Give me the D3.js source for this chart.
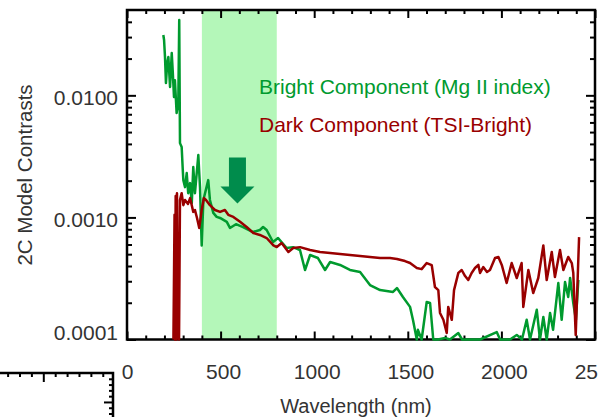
<!DOCTYPE html>
<html>
<head>
<meta charset="utf-8">
<script src="https://cdn.jsdelivr.net/npm/d3@7"></script>
<style>
  html, body { margin: 0; padding: 0; background: #fff; overflow: hidden; }
  svg { display: block; }
  text { font-family: "Liberation Sans", Arial, sans-serif; }
</style>
</head>
<body>
<script>
// ---------------- data ----------------
const xMajorTicks = [0, 500, 1000, 1500, 2000, 2500];
const yMajorTicks = [0.0001, 0.001, 0.01];
const bandRange = [400, 800];          // shaded region (nm)
const arrowNm = 590;                   // arrow position (nm)
const arrowVals = [0.0031, 0.0013];    // arrow tail / tip values

const legendLabels = ["Bright Component (Mg II index)", "Dark Component (TSI-Bright)"];

const greenNm = [
  194,198,203,208,215,221,230,239,244,251,
  256,265,274,279,283,292,298,301,310,319,
  327,337,346,354,363,381,390,399,408,434,
  443,461,479,497,533,550,582,620,673,710,
  727,746,780,807,853,887,924,951,978,1020,
  1058,1085,1138,1191,1245,1298,1352,1421,1442,1474,
  1512,1528,1548,1554,1574,1601,1619,1636,1661,1699,
  1725,1770,1790,1832,1886,1975,1993,2046,2082,2110,
  2135,2153,2189,2206,2224,2242,2260,2276,2304,2322,
  2340,2357,2367,2384,2398,2411
];
const greenVal = [
  0.0312,0.0284,0.0206,0.0126,0.0184,0.0206,0.0117,0.0222,0.0161,0.00968,
  0.0133,0.00716,0.00865,0.0414,0.00406,0.00377,0.00244,0.00202,0.00177,0.00231,
  0.00158,0.00191,0.00131,0.00259,0.00158,0.00324,0.00177,0.00059,0.00139,0.00202,
  0.00139,0.00109,0.00101,0.00099,0.00092,0.00082,0.00088,0.000834,0.000759,0.000789,
  0.000834,0.000789,0.000629,0.000678,0.000561,0.000571,0.000541,0.000371,0.000492,0.000465,
  0.000371,0.000431,0.000408,0.000371,0.000357,0.000279,0.000254,0.000245,0.000264,0.000223,
  0.000185,0.000144,0.00009,0.00012,0.00008,0.000203,0.000199,0.00009,0.00008,0.000103,
  0.00008,0.000113,0.00008,0.00008,0.00009,0.000115,0.00009,0.00009,0.000109,0.00009,
  0.000145,0.00009,0.000175,0.000099,0.000153,0.00009,0.000165,0.00012,0.00029,0.000145,
  0.000296,0.000223,0.000319,0.000199,0.000145,0.000307
];

const redNm = [
  248,254,256,260,264,267,272,278,283,292,
  301,310,326,337,354,363,374,386,399,411,
  422,443,470,497,523,541,568,604,639,675,
  710,746,782,800,826,862,888,924,978,1031,
  1085,1138,1191,1245,1298,1352,1405,1442,1485,1512,
  1548,1574,1601,1628,1645,1663,1672,1690,1708,1716,
  1735,1747,1770,1788,1806,1823,1841,1859,1877,1886,
  1903,1923,1939,1966,1984,2002,2028,2055,2082,2108,
  2117,2144,2170,2197,2224,2242,2269,2286,2313,2331,
  2357,2376,2384,2397,2415
];
const redVal = [
  0.00008,0.00105,0.00008,0.0015,0.00008,0.00158,0.00012,0.00008,0.00139,0.00158,
  0.00126,0.00139,0.00129,0.00144,0.00111,0.00115,0.00099,0.00082,0.00115,0.00144,
  0.00139,0.00126,0.00115,0.00111,0.00115,0.00105,0.00101,0.00092,0.000834,0.000745,
  0.000718,0.000678,0.00059,0.000572,0.000617,0.000521,0.000561,0.000571,0.000541,0.000521,
  0.000511,0.000502,0.000492,0.000483,0.000474,0.000465,0.000465,0.000457,0.000439,0.000423,
  0.000385,0.000377,0.000423,0.000406,0.000269,0.000254,0.000165,0.000145,0.000113,0.000185,
  0.000145,0.000254,0.000351,0.000371,0.000331,0.000307,0.000351,0.000385,0.000408,0.000351,
  0.000392,0.000357,0.000371,0.000465,0.000474,0.000408,0.00029,0.000423,0.000319,0.000423,
  0.000185,0.000371,0.00024,0.000319,0.00059,0.000307,0.000521,0.000325,0.000541,0.000371,
  0.000474,0.000423,0.000351,0.000109,0.00069
];

// fragment of a neighbouring panel's axes (bottom-left corner)
const insetXTicks = [-3,-2,-1,0,1,2,3,4,5];
const insetXMajor = [0];
const insetYTicks = [-4,-3,-2,-1,0,1,2];
const insetYMajor = [0];

// ---------------- layout ----------------
const W = 598, H = 417;
const L = 127, R = 595, T = 10, B = 339.5;
const green = "#009a2e", red = "#990000", textCol = "#333";

const svg = d3.select("body").append("svg").attr("width", W).attr("height", H);

const x = d3.scaleLinear().domain([0, 2500]).range([L, R]);
const y = d3.scaleLog().domain([0.0001, 0.05]).range([B, T]).clamp(true);

// clip (slightly larger than the frame so clamped lines sit on the axis)
svg.append("defs").append("clipPath").attr("id", "plotclip")
  .append("rect").attr("x", L).attr("y", T - 2).attr("width", R - L).attr("height", B - T + 4);

// band
svg.append("rect")
  .attr("x", x(bandRange[0])).attr("y", T)
  .attr("width", x(bandRange[1]) - x(bandRange[0])).attr("height", B - T)
  .attr("fill", "#b4f7b9");

// arrow
{
  const ax = x(arrowNm), yt = y(arrowVals[0]), yp = y(arrowVals[1]);
  const sw = 8.5, hw = 17, hh = 17;
  const pts = [[ax - sw, yt], [ax + sw, yt], [ax + sw, yp - hh], [ax + hw, yp - hh],
               [ax, yp], [ax - hw, yp - hh], [ax - sw, yp - hh]];
  svg.append("path").attr("d", "M" + pts.map(p => p.join(",")).join("L") + "Z")
    .attr("fill", "#008c4c");
}

// legend texts
svg.append("text").attr("x", 259).attr("y", 94).attr("font-size", 21)
  .attr("fill", green).text(legendLabels[0]);
svg.append("text").attr("x", 259).attr("y", 132).attr("font-size", 21)
  .attr("fill", red).text(legendLabels[1]);

// ---------------- axes ----------------
const xMinor = d3.range(0, 2501, 100).filter(v => !xMajorTicks.includes(v));
const yMinor = [];
[0.0001, 0.001, 0.01].forEach(p => { for (let k = 2; k <= 9; k++) { const v = +(k * p).toPrecision(3); if (v < 0.05) yMinor.push(v); } });

function styleAxis(g) {
  g.select(".domain").remove();
  g.selectAll(".tick line").attr("stroke", "#000").attr("stroke-width", 2);
  g.selectAll("text").attr("font-size", 21).attr("fill", textCol)
    .attr("font-family", '"Liberation Sans", Arial, sans-serif');
}

// bottom
const gb = svg.append("g").attr("transform", `translate(0,${B})`)
  .call(d3.axisBottom(x).tickValues(xMajorTicks).tickSize(-8).tickPadding(24.5).tickFormat(d3.format("d")))
  .call(styleAxis);
gb.selectAll(".tick text").attr("dx", d => d === 0 ? 0 : 2.5);
svg.append("g").attr("transform", `translate(0,${B})`)
  .call(d3.axisBottom(x).tickValues(xMinor).tickSize(-4).tickFormat(""))
  .call(styleAxis);
// top
svg.append("g").attr("transform", `translate(0,${T})`)
  .call(d3.axisTop(x).tickValues(xMajorTicks).tickSize(-8).tickFormat(""))
  .call(styleAxis);
svg.append("g").attr("transform", `translate(0,${T})`)
  .call(d3.axisTop(x).tickValues(xMinor).tickSize(-4).tickFormat(""))
  .call(styleAxis);
// left
const gl = svg.append("g").attr("transform", `translate(${L},0)`)
  .call(d3.axisLeft(y).tickValues(yMajorTicks).tickSize(-9).tickPadding(9).tickFormat(d3.format(".4f")))
  .call(styleAxis);
gl.selectAll(".tick text").attr("dy", d => d === 0.0001 ? "-0.02em" : "0.42em");
svg.append("g").attr("transform", `translate(${L},0)`)
  .call(d3.axisLeft(y).tickValues(yMinor).tickSize(-5).tickFormat(""))
  .call(styleAxis);
// right
svg.append("g").attr("transform", `translate(${R},0)`)
  .call(d3.axisRight(y).tickValues(yMajorTicks).tickSize(-9).tickFormat(""))
  .call(styleAxis);
svg.append("g").attr("transform", `translate(${R},0)`)
  .call(d3.axisRight(y).tickValues(yMinor).tickSize(-5).tickFormat(""))
  .call(styleAxis);

// frame
svg.append("rect").attr("x", L).attr("y", T).attr("width", R - L).attr("height", B - T)
  .attr("fill", "none").attr("stroke", "#000").attr("stroke-width", 2.5);

// data lines (drawn over the frame, as in the reference)
const plot = svg.append("g").attr("clip-path", "url(#plotclip)");
const line = d3.line().x(d => x(d[0])).y(d => y(d[1]));
plot.append("path").datum(d3.zip(greenNm, greenVal))
  .attr("d", line).attr("fill", "none").attr("stroke", green)
  .attr("stroke-width", 2.5).attr("stroke-linejoin", "round");
plot.append("path").datum(d3.zip(redNm, redVal))
  .attr("d", line).attr("fill", "none").attr("stroke", red)
  .attr("stroke-width", 2.5).attr("stroke-linejoin", "round");

// titles
svg.append("text").attr("x", (L + R) / 2 - 5).attr("y", 413).attr("text-anchor", "middle")
  .attr("font-size", 20).attr("fill", textCol).text("Wavelength (nm)");
svg.append("text").attr("transform", "translate(32,175) rotate(-90)").attr("text-anchor", "middle")
  .attr("font-size", 20.5).attr("fill", textCol).text("2C Model Contrasts");

// ---------------- neighbouring panel fragment ----------------
const cornerX = 113, cornerY = 373;
const ix = d3.scaleLinear().domain([-3.64, 5.86]).range([0, cornerX]);
const iy = d3.scaleLinear().domain([-5, 2.6]).range([cornerY, H]);
svg.append("g").attr("transform", `translate(0,${cornerY})`)
  .call(d3.axisBottom(ix).tickValues(insetXTicks).tickSize(4).tickFormat(""))
  .call(styleAxis)
  .selectAll(".tick line").attr("y2", d => insetXMajor.includes(d) ? 9 : 4);
svg.append("g").attr("transform", `translate(${cornerX},0)`)
  .call(d3.axisLeft(iy).tickValues(insetYTicks).tickSize(4).tickFormat(""))
  .call(styleAxis)
  .selectAll(".tick line").attr("x2", d => insetYMajor.includes(d) ? -9 : -4);
svg.append("path")
  .attr("d", `M0,${cornerY}H${cornerX}V${H}`)
  .attr("fill", "none").attr("stroke", "#000").attr("stroke-width", 2.5);
</script>
</body>
</html>
